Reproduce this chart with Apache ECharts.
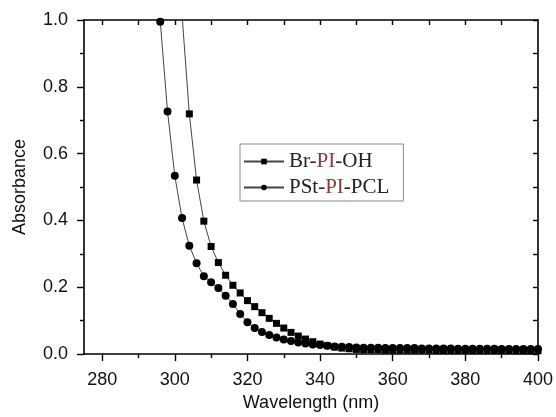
<!DOCTYPE html>
<html>
<head>
<meta charset="utf-8">
<script src="https://cdn.jsdelivr.net/npm/echarts@6/dist/echarts.min.js"></script>
<style>html,body{margin:0;padding:0;background:#fff;}#c{width:556px;height:417px;}</style>
</head>
<body>
<div id="c"></div>
<script>
// Wavelengths (nm)
var wlBr = [300,302,304,306,308,310,312,314,316,318,320,322,324,326,328,330,332,334,336,338,340,342,344,346,348,350,352,354,356,358,360,362,364,366,368,370,372,374,376,378,380,382,384,386,388,390,392,394,396,398,400];
var absBr = [1.45,1.015,0.719,0.521,0.398,0.322,0.274,0.236,0.206,0.183,0.160,0.142,0.124,0.107,0.092,0.078,0.065,0.054,0.045,0.037,0.030,0.025,0.021,0.018,0.016,0.014,0.013,0.013,0.013,0.012,0.012,0.012,0.012,0.012,0.012,0.012,0.011,0.011,0.011,0.011,0.011,0.011,0.011,0.011,0.011,0.011,0.011,0.010,0.010,0.010,0.010];
var wlPs = [294,296,298,300,302,304,306,308,310,312,314,316,318,320,322,324,326,328,330,332,334,336,338,340,342,344,346,348,350,352,354,356,358,360,362,364,366,368,370,372,374,376,378,380,382,384,386,388,390,392,394,396,398,400];
var absPs = [1.35,0.995,0.726,0.534,0.407,0.324,0.272,0.233,0.215,0.198,0.175,0.150,0.120,0.095,0.078,0.066,0.057,0.050,0.044,0.039,0.035,0.032,0.029,0.027,0.025,0.023,0.022,0.021,0.020,0.019,0.019,0.019,0.018,0.018,0.018,0.018,0.018,0.017,0.017,0.017,0.017,0.017,0.016,0.016,0.016,0.016,0.016,0.016,0.015,0.015,0.015,0.015,0.015,0.015];
var seriesNames = ['Br-PI-OH','PSt-PI-PCL'];
var xMajorTicks = [280,300,320,340,360,380,400];
var xMinorTicks = [290,310,330,350,370,390];
var xTopTicks = [280,290,300,310,320,330,340,350,360,370,380,390];

function pairs(xs, ys){ return xs.map(function(x,i){ return [x, ys[i]]; }); }

var chart = echarts.init(document.getElementById('c'), null, {renderer:'canvas'});
var axisFont = {fontFamily:'Liberation Sans, Arial, sans-serif', fontSize:18, color:'#111'};
var serif = 'Liberation Serif, Times New Roman, serif';
chart.setOption({
  animation:false,
  backgroundColor:'#fff',
  grid:{left:84, right:17, top:20, bottom:61.5, containLabel:false},
  legend:{
    left:240, top:144,
    orient:'vertical',
    padding:[7,14,3,3],
    itemGap:5,
    itemWidth:40, itemHeight:7,
    borderColor:'#888', borderWidth:1, backgroundColor:'#fff',
    data:seriesNames,
    formatter:function(n){ return n.split('PI').join('{r|PI}'); },
    textStyle:{fontFamily:serif, fontSize:21, color:'#222', padding:[0,0,0,0],
      rich:{r:{fontFamily:serif, fontSize:21, color:'#8a3a3a'}}}
  },
  xAxis:[
    {type:'value', position:'bottom', min:275, max:400,
     name:'Wavelength (nm)', nameLocation:'middle', nameGap:33,
     nameTextStyle:{fontFamily:'Liberation Sans, Arial, sans-serif', fontSize:18, color:'#111'},
     axisLine:{show:true, onZero:false, lineStyle:{color:'#000', width:1.6}},
     axisTick:{show:true, inside:false, length:7, customValues:xMajorTicks, lineStyle:{color:'#000', width:1.4}},
     axisLabel:Object.assign({margin:17, customValues:xMajorTicks}, axisFont),
     splitLine:{show:false}},
    {type:'value', position:'bottom', min:275, max:400,
     axisLine:{show:false},
     axisTick:{show:true, inside:false, length:4, customValues:xMinorTicks, lineStyle:{color:'#000', width:1.4}},
     axisLabel:{show:false}, splitLine:{show:false}},
    {type:'value', position:'top', min:275, max:400,
     axisLine:{show:true, onZero:false, lineStyle:{color:'#000', width:1.6}},
     axisTick:{show:true, inside:true, length:5, customValues:xTopTicks, lineStyle:{color:'#000', width:1.4}},
     axisLabel:{show:false}, splitLine:{show:false}}
  ],
  yAxis:[
    {type:'value', position:'left', min:0, max:1, interval:0.2,
     name:'Absorbance', nameLocation:'middle', nameGap:55, nameRotate:90,
     nameTextStyle:{fontFamily:'Liberation Sans, Arial, sans-serif', fontSize:18, color:'#111'},
     axisLine:{show:true, onZero:false, lineStyle:{color:'#000', width:1.6}},
     axisTick:{show:true, inside:false, length:7, lineStyle:{color:'#000', width:1.4}},
     minorTick:{show:true, splitNumber:2, length:4, lineStyle:{color:'#000', width:1.4}},
     axisLabel:Object.assign({margin:16, formatter:function(v){return v.toFixed(1);}}, axisFont),
     splitLine:{show:false}, minorSplitLine:{show:false}},
    {type:'value', position:'right', min:0, max:1, interval:0.1,
     axisLine:{show:true, onZero:false, lineStyle:{color:'#000', width:1.6}},
     axisTick:{show:true, inside:true, length:5, lineStyle:{color:'#000', width:1.4}},
     axisLabel:{show:false}, splitLine:{show:false}}
  ],
  series:[
    {name:seriesNames[0], type:'line', xAxisIndex:0, yAxisIndex:0, clip:true,
     data:pairs(wlBr, absBr), symbol:'rect', symbolSize:7, showSymbol:true,
     lineStyle:{color:'#444', width:1}, itemStyle:{color:'#000'}},
    {name:seriesNames[1], type:'line', xAxisIndex:0, yAxisIndex:0, clip:true,
     data:pairs(wlPs, absPs), symbol:'circle', symbolSize:8, showSymbol:true,
     lineStyle:{color:'#444', width:1}, itemStyle:{color:'#000'}}
  ]
});
</script>
</body>
</html>
